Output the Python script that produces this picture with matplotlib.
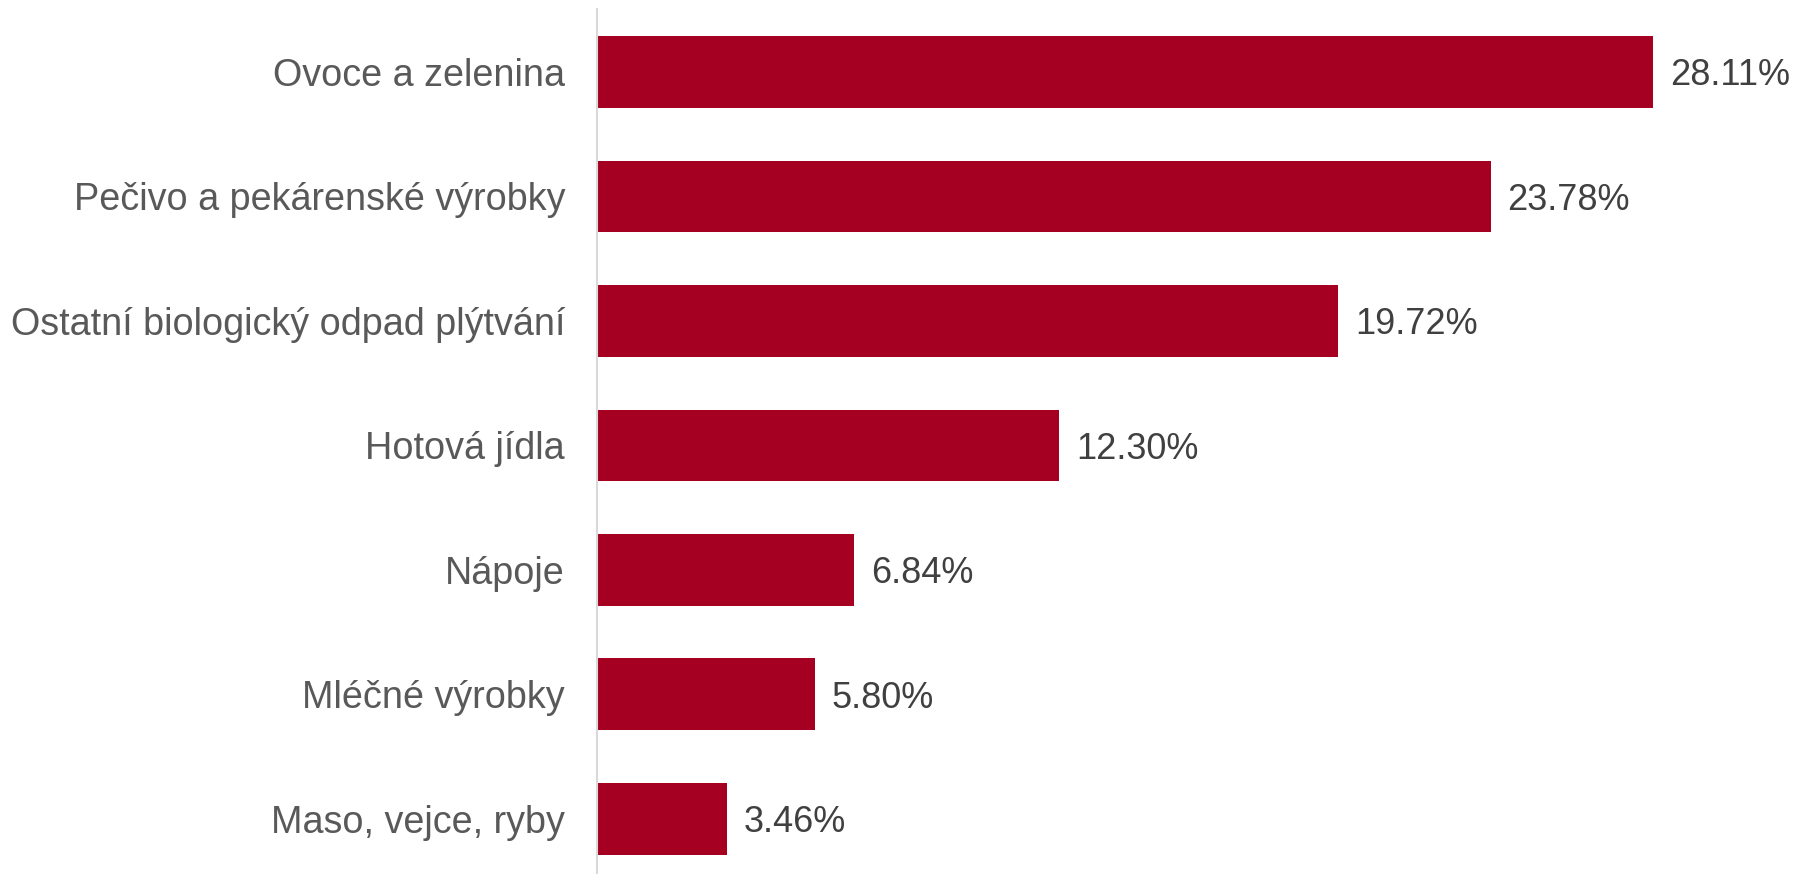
import matplotlib
matplotlib.use("Agg")
import matplotlib.pyplot as plt

plt.rcParams["font.family"] = ["Liberation Sans", "DejaVu Sans"]

# Data
categories = [
    "Ovoce a zelenina",
    "Pečivo a pekárenské výrobky",
    "Ostatní biologický odpad plýtvání",
    "Hotová jídla",
    "Nápoje",
    "Mléčné výrobky",
    "Maso, vejce, ryby",
]
shares = [28.11, 23.78, 19.72, 12.30, 6.84, 5.80, 3.46]
value_labels = ["28.11%", "23.78%", "19.72%", "12.30%", "6.84%", "5.80%", "3.46%"]

bar_color = "#A50021"
label_color = "#595959"
value_color = "#404040"

fig = plt.figure(figsize=(18.02, 8.74), dpi=100)
ax = fig.add_axes([597 / 1802, 0.0, 1 - 597 / 1802, 1 - 9 / 874])

ypos = list(range(len(categories)))
ax.barh(ypos, shares, height=0.578, color=bar_color)

for y, v, lab in zip(ypos, shares, value_labels):
    ax.annotate(lab, xy=(v, y), xytext=(12.2, 0), textcoords="offset points",
                ha="left", va="center_baseline", fontsize=26, color=value_color)

ax.set_yticks(ypos)
ax.set_yticklabels(categories, fontsize=27.2, color=label_color)
ax.tick_params(axis="y", length=0, pad=23)
ax.set_xticks([])

ax.set_xlim(0, 32.07)
ax.set_ylim(6.442, -0.506)

for side in ["top", "right", "bottom"]:
    ax.spines[side].set_visible(False)
ax.spines["left"].set_color("#d9d9d9")
ax.spines["left"].set_linewidth(1.5)

fig.savefig("out.png", dpi=100)
